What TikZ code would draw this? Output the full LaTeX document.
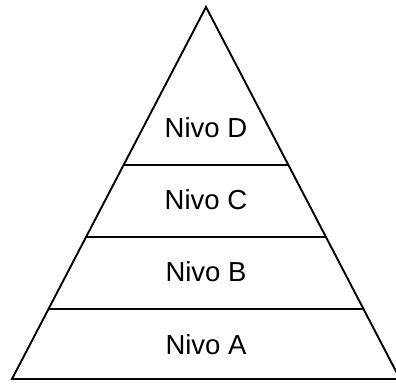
\documentclass[tikz,border=0pt]{standalone}
\usepackage{fontspec}
\setmainfont{Liberation Sans}
\usetikzlibrary{calc}

\begin{document}
\begin{tikzpicture}[x=1pt,y=-1pt,line width=1.9pt,line join=miter,
  level/.style={font=\fontsize{27.5}{32}\selectfont,inner sep=0pt}]
\useasboundingbox (0,0) rectangle (396,383);
\coordinate (top) at (206,7);
\coordinate (bl) at (12,379);
\coordinate (br) at (400,379);
\draw (bl) -- (top) -- (br) -- cycle;
\draw ($(top)!0.4247!(bl)$) -- ($(top)!0.4247!(br)$);
\draw ($(top)!0.6183!(bl)$) -- ($(top)!0.6183!(br)$);
\draw ($(top)!0.8118!(bl)$) -- ($(top)!0.8118!(br)$);
\node[level] (d) at (206,128) {Nivo D};
\node[level] (c) at (206,200) {Nivo C};
\node[level] (b) at (206,272) {Nivo B};
\node[level] (a) at (206,345) {Nivo A};
\end{tikzpicture}
\end{document}
